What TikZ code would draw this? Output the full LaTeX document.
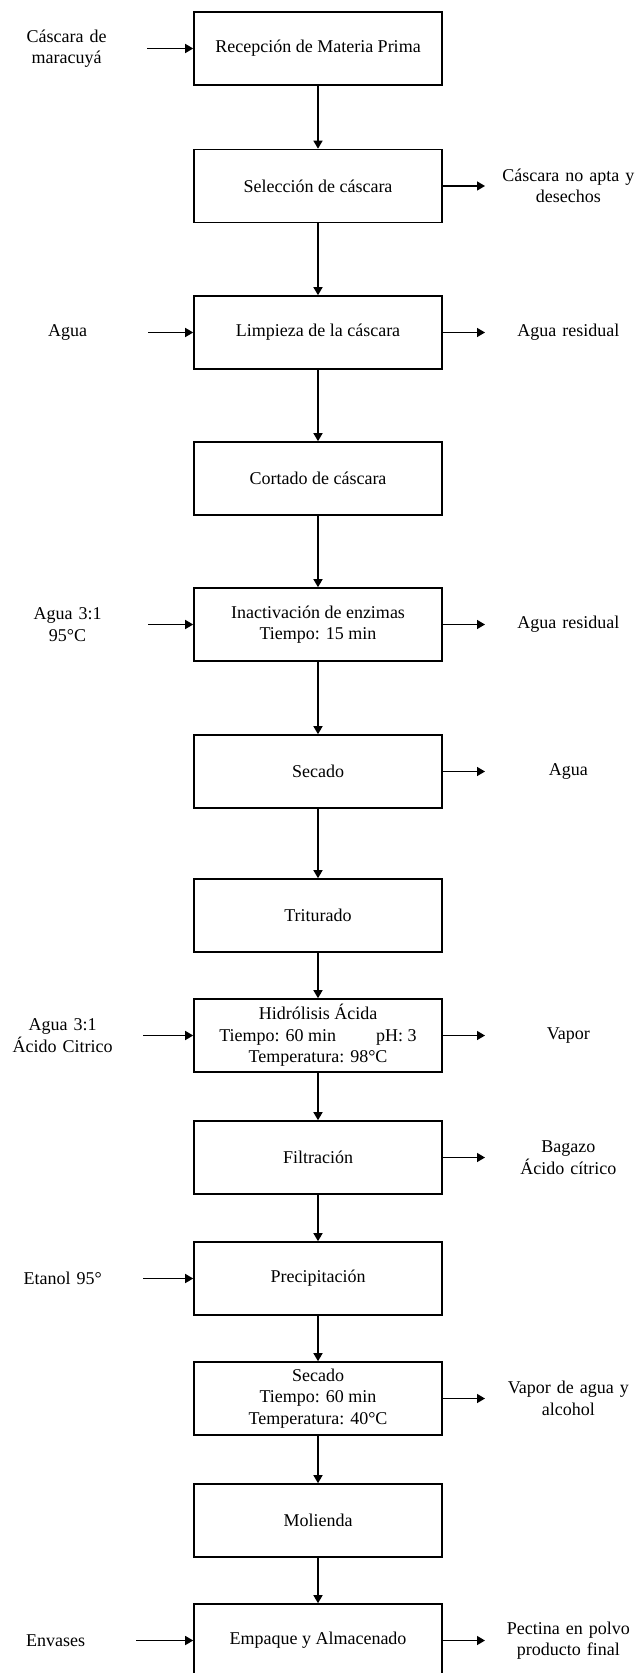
\documentclass[tikz,border=0pt]{standalone}
\usepackage{fontspec}
\setmainfont{Liberation Serif}
\usetikzlibrary{arrows.meta, positioning}

\begin{document}
\begin{tikzpicture}[x=0.5pt, y=-0.5pt,
  font=\fontsize{9}{10.8}\selectfont,
  proc/.style={draw, line width=0.8pt, minimum width=124pt, minimum height=36.5pt, inner sep=0pt, align=center},
  inlab/.style={text width=80pt, inner sep=0pt, align=center, anchor=east},
  outlab/.style={text width=83pt, inner sep=0pt, align=center, anchor=west},
  flow/.style={-{Triangle[length=4pt, width=4.5pt]}, line width=0.7pt}]

\useasboundingbox (0,0) rectangle (638,1673);

% Process steps
\node[proc] (recep) at (318,48.5) {Recepción de Materia Prima};
\node[proc] (selec) at (318,186) {Selección de cáscara};
\node[proc] (limp) at (318,332.5) {Limpieza de la cáscara};
\node[proc] (cort) at (318,478.5) {Cortado de cáscara};
\node[proc] (inact) at (318,624.5) {Inactivación de enzimas\\Tiempo: 15 min};
\node[proc] (secA) at (318,771.5) {Secado};
\node[proc] (trit) at (318,915.5) {Triturado};
\node[proc] (hidr) at (318,1035.5) {Hidrólisis Ácida\\Tiempo: 60 min\hspace{20pt}pH: 3\\Temperatura: 98°C};
\node[proc] (filt) at (318,1157.5) {Filtración};
\node[proc] (prec) at (318,1278.5) {Precipitación};
\node[proc] (secB) at (318,1398.5) {Secado\\Tiempo: 60 min\\Temperatura: 40°C};
\node[proc] (mol) at (318,1520.5) {Molienda};
\node[proc] (emp) at (318,1640.5) {Empaque y Almacenado};

% Inputs
\node[inlab] (inMara) at (147,48.5) {Cáscara de\\maracuyá};
\node[inlab] (inAgua) at (148,332.5) {Agua};
\node[inlab] (inAguaT) at (148,624.5) {Agua 3:1\\95°C};
\node[inlab] (inAcido) at (143,1035.5) {Agua 3:1\\Ácido Citrico};
\node[inlab] (inEtanol) at (143,1278.5) {Etanol 95°};
\node[inlab] (inEnv) at (136,1640.5) {Envases};

% Outputs
\node[outlab] (outDes) at (485,186) {Cáscara no apta y\\desechos};
\node[outlab] (outAguaA) at (485,332.5) {Agua residual};
\node[outlab] (outAguaB) at (485,624.5) {Agua residual};
\node[outlab] (outAguaC) at (485,771.5) {Agua};
\node[outlab] (outVapor) at (485,1035.5) {Vapor};
\node[outlab] (outBag) at (485,1157.5) {Bagazo\\Ácido cítrico};
\node[outlab] (outVapAlc) at (485,1398.5) {Vapor de agua y\\alcohol};
\node[outlab] (outPect) at (485,1640.5) {Pectina en polvo\\producto final};

% Main line
\draw[flow] (recep) -- (selec);
\draw[flow] (selec) -- (limp);
\draw[flow] (limp) -- (cort);
\draw[flow] (cort) -- (inact);
\draw[flow] (inact) -- (secA);
\draw[flow] (secA) -- (trit);
\draw[flow] (trit) -- (hidr);
\draw[flow] (hidr) -- (filt);
\draw[flow] (filt) -- (prec);
\draw[flow] (prec) -- (secB);
\draw[flow] (secB) -- (mol);
\draw[flow] (mol) -- (emp);

% Side streams
\draw[flow] (inMara.east) -- (recep.west);
\draw[flow] (inAgua.east) -- (limp.west);
\draw[flow] (inAguaT.east) -- (inact.west);
\draw[flow] (inAcido.east) -- (hidr.west);
\draw[flow] (inEtanol.east) -- (prec.west);
\draw[flow] (inEnv.east) -- (emp.west);
\draw[flow] (selec.east) -- (outDes.west);
\draw[flow] (limp.east) -- (outAguaA.west);
\draw[flow] (inact.east) -- (outAguaB.west);
\draw[flow] (secA.east) -- (outAguaC.west);
\draw[flow] (hidr.east) -- (outVapor.west);
\draw[flow] (filt.east) -- (outBag.west);
\draw[flow] (secB.east) -- (outVapAlc.west);
\draw[flow] (emp.east) -- (outPect.west);

\end{tikzpicture}
\end{document}
